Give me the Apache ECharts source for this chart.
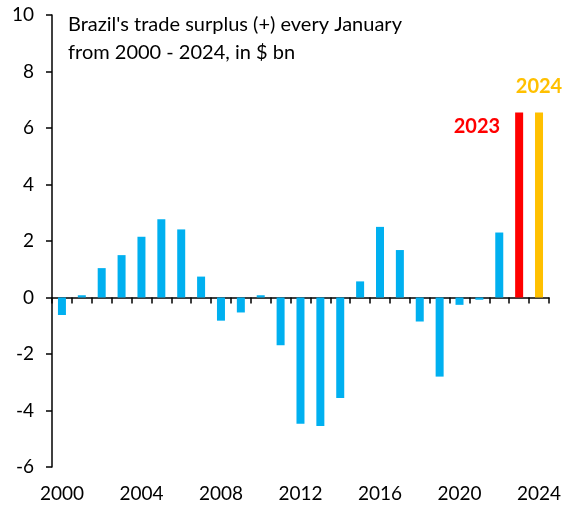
<!DOCTYPE html>
<html>
<head>
    <meta charset="UTF-8">
    <title>Brazil trade surplus</title>
    <script src="https://cdn.jsdelivr.net/npm/echarts@6/dist/echarts.min.js"></script>
    <style>
        html, body { margin: 0; padding: 0; background: #fff; }
        #chart { width: 564px; height: 508px; }
    </style>
</head>
<body>
<div id="chart"></div>
<script>
// data
var years = ['2000','2001','2002','2003','2004','2005','2006','2007','2008','2009','2010','2011','2012',
             '2013','2014','2015','2016','2017','2018','2019','2020','2021','2022','2023','2024'];
var surplus = [-0.62, 0.08, 1.04, 1.50, 2.15, 2.77, 2.41, 0.74, -0.82, -0.53, 0.08, -1.69, -4.47,
               -4.55, -3.56, 0.57, 2.50, 1.68, -0.85, -2.80, -0.26, -0.08, 2.30, 6.55, 6.55];
var yTicks = [-6, -4, -2, 0, 2, 4, 6, 8, 10];
var highlight = { '2023': '#FF0000', '2024': '#FFC000' };

var font = 'Lato, "Open Sans", sans-serif';

var barData = surplus.map(function (v, i) {
    var y = years[i];
    var item = { value: v };
    if (highlight[y]) {
        item.itemStyle = { color: highlight[y] };
        item.label = {
            show: true,
            formatter: y,
            color: highlight[y],
            fontWeight: 'bold',
            fontSize: 20,
            fontFamily: font
        };
        if (y === '2023') {
            item.label.position = [-15, 14];
            item.label.align = 'right';
            item.label.verticalAlign = 'middle';
        } else {
            item.label.position = 'top';
            item.label.distance = 16;
        }
    }
    return item;
});

var chart = echarts.init(document.getElementById('chart'), null, {renderer: 'canvas'});
chart.setOption({
    animation: false,
    title: {
        text: "Brazil's trade surplus (+) every January\nfrom 2000 - 2024, in $ bn",
        left: 63,
        top: 6,
        textStyle: { fontFamily: font, fontSize: 20, fontWeight: 'normal', color: '#000', lineHeight: 28 }
    },
    grid: { left: 52, right: 12, top: 15, bottom: 41 },
    xAxis: [{
        type: 'category',
        data: years,
        axisLine: { onZero: true, lineStyle: { color: '#000', width: 1.5 } },
        axisTick: { show: true, interval: 0, length: 6, lineStyle: { color: '#000', width: 1.5 } },
        axisLabel: { show: false }
    }, {
        type: 'category',
        data: years,
        position: 'bottom',
        axisLine: { show: false, onZero: false },
        axisTick: { show: false },
        axisLabel: {
            interval: 3,
            margin: 17,
            fontFamily: font,
            fontSize: 19,
            color: '#000'
        }
    }],
    yAxis: {
        type: 'value',
        min: yTicks[0],
        max: yTicks[yTicks.length - 1],
        interval: 2,
        axisLine: { show: true, lineStyle: { color: '#000', width: 1.5 } },
        axisTick: { show: true, length: 6, lineStyle: { color: '#000', width: 1.5 } },
        splitLine: { show: false },
        axisLabel: { margin: 18, fontFamily: font, fontSize: 19, color: '#000' }
    },
    series: [{
        type: 'bar',
        xAxisIndex: 0,
        data: barData,
        barWidth: 8,
        itemStyle: { color: '#00B0F0' }
    }]
});
</script>
</body>
</html>
